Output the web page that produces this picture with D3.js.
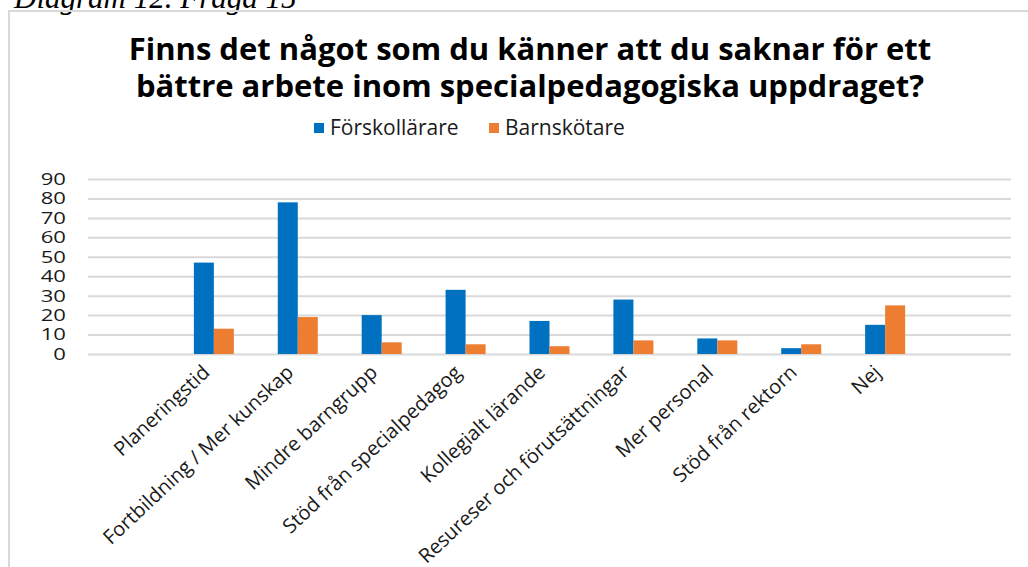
<!DOCTYPE html>
<html>
<head>
<meta charset="utf-8">
<script src="https://cdn.jsdelivr.net/npm/d3@7"></script>
<style>
  body { margin: 0; background: #fff; }
  svg { display: block; }
  .ytick text, .xtick text { fill: #1a1a1a; }
</style>
</head>
<body>
<svg id="chart" width="1028" height="567"></svg>
<script>
  var categories = ["Planeringstid", "Fortbildning / Mer kunskap", "Mindre barngrupp",
    "Stöd från specialpedagog", "Kollegialt lärande", "Resureser och förutsättningar",
    "Mer personal", "Stöd från rektorn", "Nej"];
  var seriesNames = ["Förskollärare", "Barnskötare"];
  var forskollarare = [47, 78, 20, 33, 17, 28, 8, 3, 15];
  var barnskotare = [13, 19, 6, 5, 4, 7, 7, 5, 25];
  var yTicks = [0, 10, 20, 30, 40, 50, 60, 70, 80, 90];
  var colours = ["#0070c0", "#ed7d31"];

  var svg = d3.select("#chart");
  var plot = { left: 88, right: 1011, top: 179, bottom: 354 };
  var stretch = 1.3; // the source picture is widened, so the tick digits are too

  // caption above the chart frame (cut off in the source)
  svg.append("text")
    .attr("x", 14).attr("y", 8)
    .style("font", "italic 31px 'Liberation Serif'")
    .text("Diagram 12. Fråga 15");

  // frame
  svg.append("path")
    .attr("d", "M9,567V11H1028")
    .attr("fill", "none")
    .attr("stroke", "#d9d9d9")
    .attr("stroke-width", 2);

  // title
  var title = svg.append("text")
    .attr("text-anchor", "middle")
    .style("font", "bold 31px 'Open Sans'")
    .attr("fill", "#000");
  title.append("tspan").attr("x", 530).attr("y", 60)
    .text("Finns det något som du känner att du saknar för ett");
  title.append("tspan").attr("x", 530).attr("y", 97)
    .text("bättre arbete inom specialpedagogiska uppdraget?");

  // legend
  var legend = svg.append("g").selectAll("g")
    .data(seriesNames)
    .enter().append("g")
    .attr("transform", function (d, i) { return "translate(" + [314 + i * 175, 123] + ")"; });
  legend.append("rect")
    .attr("width", 10).attr("height", 10)
    .attr("fill", function (d, i) { return colours[i]; });
  legend.append("text")
    .attr("x", 16).attr("y", 12)
    .style("font", "21px 'Open Sans'")
    .attr("fill", "#1a1a1a")
    .text(function (d) { return d; });

  var x = d3.scaleBand()
    .domain(categories)
    .range([plot.left, plot.right])
    .paddingInner(0)
    .paddingOuter(1);

  var x1 = d3.scaleBand()
    .domain(seriesNames)
    .range([0, 40]);

  var y = d3.scaleLinear()
    .domain([0, 90])
    .range([plot.bottom, plot.top]);

  // gridlines + y labels
  var yAxis = svg.append("g")
    .attr("class", "ytick")
    .attr("transform", "translate(" + plot.left + ",0)")
    .call(d3.axisLeft(y).tickValues(yTicks).tickSize(-(plot.right - plot.left)).tickPadding(22));
  yAxis.select(".domain").remove();
  yAxis.selectAll("line").attr("stroke", "#d9d9d9").attr("stroke-width", 2);
  yAxis.selectAll("text")
    .style("font", "17px 'Open Sans'")
    .attr("x", -22 / stretch)
    .attr("transform", "scale(" + stretch + ",1)");

  // bars
  var groups = svg.append("g").selectAll("g")
    .data(categories)
    .enter().append("g")
    .attr("transform", function (d) { return "translate(" + (x(d) + x.bandwidth() / 2 - 20) + ",0)"; });

  groups.selectAll("rect")
    .data(function (d, i) { return [forskollarare[i], barnskotare[i]]; })
    .enter().append("rect")
    .attr("x", function (d, j) { return x1(seriesNames[j]); })
    .attr("width", x1.bandwidth())
    .attr("y", function (d) { return y(d); })
    .attr("height", function (d) { return y(0) - y(d); })
    .attr("fill", function (d, j) { return colours[j]; });

  // category labels
  var xAxis = svg.append("g")
    .attr("class", "xtick")
    .attr("transform", "translate(0," + plot.bottom + ")")
    .call(d3.axisBottom(x).tickSize(0));
  xAxis.select(".domain").remove();
  xAxis.selectAll("text")
    .style("font", "20px 'Open Sans'")
    .attr("text-anchor", "end")
    .attr("dy", null)
    .attr("y", 0)
    .attr("transform", "translate(-3,20) rotate(-43)");
</script>
</body>
</html>
